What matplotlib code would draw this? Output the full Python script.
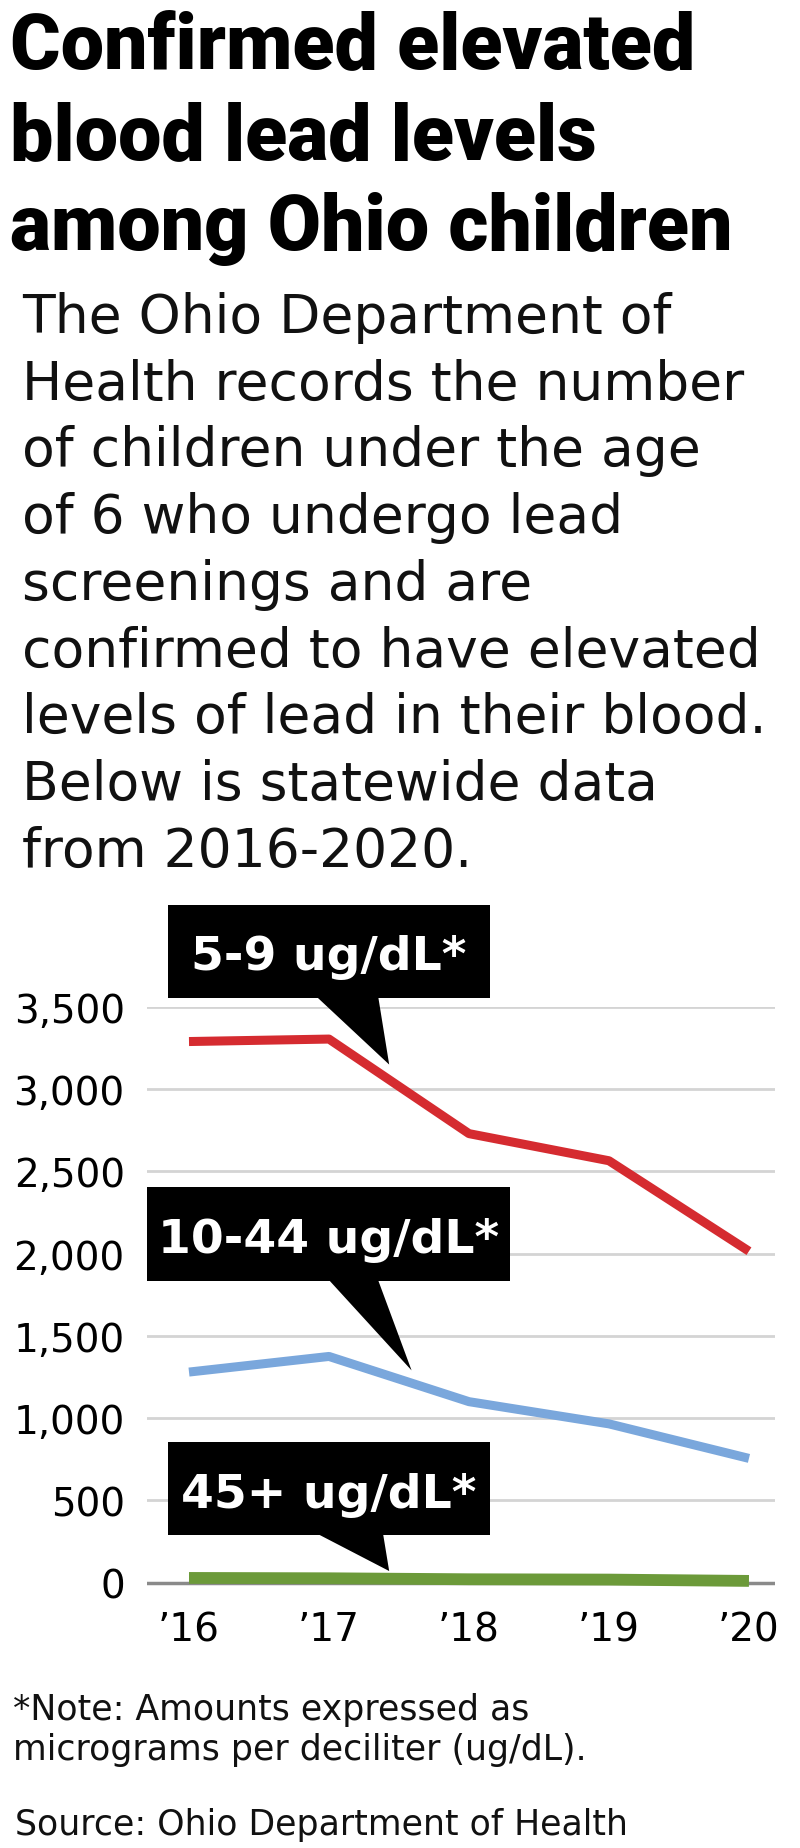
"""Confirmed elevated blood lead levels among Ohio children."""

import matplotlib

matplotlib.use("Agg")
import matplotlib.pyplot as plt
from matplotlib.patches import Rectangle

W, H = 800, 1849

years = ["\u201916", "\u201917", "\u201918", "\u201919", "\u201920"]
lvl_5_9 = [3290, 3305, 2730, 2565, 2015]
lvl_10_44 = [1280, 1375, 1100, 965, 755]
lvl_45_plus = [28, 26, 20, 18, 10]
y_ticks = [0, 500, 1000, 1500, 2000, 2500, 3000, 3500]

title_lines = ["Confirmed elevated", "blood lead levels", "among Ohio children"]
subtitle_lines = [
    "The Ohio Department of",
    "Health records the number",
    "of children under the age",
    "of 6 who undergo lead",
    "screenings and are",
    "confirmed to have elevated",
    "levels of lead in their blood.",
    "Below is statewide data",
    "from 2016-2020.",
]
note_lines = ["*Note: Amounts expressed as", "micrograms per deciliter (ug/dL)."]
source = "Source: Ohio Department of Health"

SANS = "DejaVu Sans"


def fy(px):
    return 1 - px / H


fig = plt.figure(figsize=(W / 100, H / 100), dpi=100)

for i, line in enumerate(title_lines):
    fig.text(10 / W, fy(68 + 91 * i), line, family="Roboto", weight="black",
             fontsize=55.5, va="baseline", ha="left")

for i, line in enumerate(subtitle_lines):
    fig.text(22 / W, fy(333 + 66.7 * i), line, family=SANS,
             fontsize=38.5, va="baseline", ha="left", color="#111111")

ax = fig.add_axes([147 / W, fy(1600), 628 / W, 592 / H])
x = list(range(len(years)))
ax.plot(x, lvl_5_9, color="#d52b30", lw=6.5, solid_capstyle="butt", zorder=4)
ax.plot(x, lvl_10_44, color="#7aa7dc", lw=6.5, solid_capstyle="butt", zorder=4)
ax.plot(x, lvl_45_plus, color="#6c9a3a", lw=8.5, solid_capstyle="butt", zorder=4)
ax.axhline(0, color="#8a8a8a", lw=2.5, zorder=2)

ax.set_xlim(-0.3, 4.186)
ax.set_ylim(-100, 3500)
ax.set_yticks(y_ticks)
ax.set_yticklabels([f"{v:,}" for v in y_ticks], family=SANS, fontsize=28)
ax.set_xticks(x)
ax.set_xticklabels(years, family=SANS, fontsize=28)
ax.tick_params(axis="y", length=0, pad=16)
ax.tick_params(axis="x", length=0, pad=8)
ax.yaxis.grid(True, color="#d4d4d4", lw=2)
ax.set_axisbelow(True)
for s in ax.spines.values():
    s.set_visible(False)

# callouts: label, box x0, x1, y0, y1, text x, baseline y, tip x, tip y, wedge width
callouts = [
    ("5-9 ug/dL*", -0.15, 2.15, 3554, 4119, 1.0, 3730, 1.43, 3150, 6.3),
    ("10-44 ug/dL*", -0.30, 2.29, 1835, 2406, 1.0, 2011, 1.59, 1290, 4.5),
    ("45+ ug/dL*", -0.15, 2.15, 292, 857, 1.0, 462, 1.43, 70, 7.4),
]
for label, x0, x1, y0, y1, tx, ty, px, py, tw in callouts:
    box = Rectangle((x0, y0), x1 - x0, y1 - y0, facecolor="black",
                    edgecolor="none", clip_on=False, zorder=5)
    ax.add_patch(box)
    # wedge starts at the box centre; the part inside the box is hidden
    ax.annotate("", xy=(px, py), xytext=((x0 + x1) / 2, (y0 + y1) / 2),
                annotation_clip=False, zorder=3,
                arrowprops=dict(arrowstyle=f"wedge,tail_width={tw}",
                                mutation_scale=10, fc="black", ec="none",
                                lw=0, patchA=None, shrinkA=0, shrinkB=0))
    ax.text(tx, ty, label, color="white", family=SANS, weight="bold",
            fontsize=34, ha="center", va="baseline", zorder=6, clip_on=False)

fig.text(13 / W, fy(1720), note_lines[0], family=SANS, fontsize=25,
         va="baseline", color="#111111")
fig.text(13 / W, fy(1760), note_lines[1], family=SANS, fontsize=25,
         va="baseline", color="#111111")
fig.text(15 / W, fy(1835), source, family=SANS, fontsize=25,
         va="baseline", color="#111111")

fig.savefig("out.png", dpi=100)
plt.close(fig)
